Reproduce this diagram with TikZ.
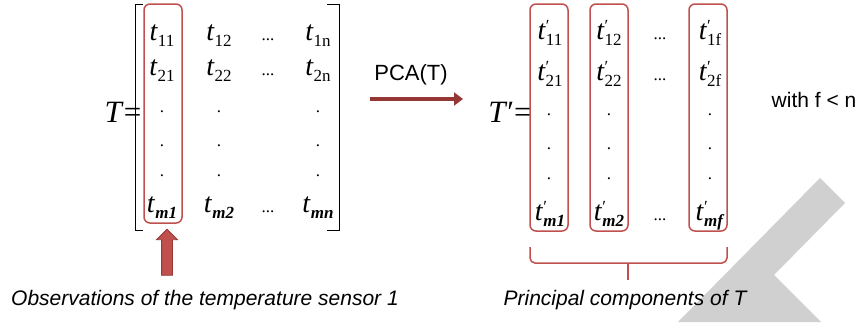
\documentclass[tikz,border=0pt]{standalone}
\usepackage{fontspec}
\setmainfont{Liberation Serif}
\setsansfont{Liberation Sans}
\usepackage{tikz}
\usetikzlibrary{positioning, arrows.meta, shapes.arrows}

\definecolor{boxred}{HTML}{C0504D}
\definecolor{darkred}{HTML}{953735}
\definecolor{wmgray}{HTML}{D0D0D0}

\newcommand{\subsz}{\fontsize{17}{17}\selectfont}
\newcommand{\tent}[1]{\textit{t}\raisebox{-6pt}{\subsz #1}}
\newcommand{\tprm}[1]{\textit{t}\rlap{\raisebox{8pt}{\subsz\char"2032}}\raisebox{-6pt}{\subsz #1}}
\newcommand{\bsub}[1]{\textbf{\textit{#1}}}

\begin{document}
\begin{tikzpicture}[
    x=1pt, y=-1pt,
    colbox/.style={draw=boxred, line width=1.5pt, rounded corners=6pt,
                   minimum width=38pt, inner sep=0pt},
    entry/.style={anchor=base, inner sep=0pt, font=\fontsize{28}{28}\selectfont},
    dots/.style={anchor=base, inner sep=0pt, font=\subsz},
    eqlbl/.style={anchor=base, inner sep=0pt, font=\fontsize{31}{31}\selectfont},
    lbl/.style={font=\fontsize{21}{24}\selectfont\sffamily\itshape},
    plain/.style={font=\fontsize{21}{24}\selectfont\sffamily},
    pcaarrow/.style={-{Triangle[width=13pt, length=9pt]}, line width=4pt, draw=darkred},
    uparrow/.style={single arrow, rotate=90, fill=boxred, draw=darkred, thick,
                    minimum height=46pt, inner xsep=0pt, inner ysep=5pt,
                    single arrow head extend=5pt},
    bracket/.style={line width=0.8pt},
    colbrace/.style={draw=boxred, line width=1.5pt, rounded corners=5pt},
]
\useasboundingbox (0,0) rectangle (865,322);

% watermark in the corner
\fill[wmgray] (820,178) -- (845,203) -- (774,275) -- (821,322) -- (678,322) -- cycle;

% matrix T
\node[eqlbl] (teq) at (123,122) {\textit{T}=};
\draw[bracket] (143,4) -- (135,4) -- (135,230) -- (143,230);
\draw[bracket] (327,4) -- (339,4) -- (339,230) -- (327,230);
\node[colbox, minimum height=219pt] (lcol) at (163,113.5) {};

\node[entry] (l11) at (162,40) {\tent{11}};
\node[entry] (l12) at (219,40) {\tent{12}};
\node[dots]  (l13) at (268,40) {...};
\node[entry] (l1n) at (318,40) {\tent{1n}};
\node[entry] (l21) at (162,75) {\tent{21}};
\node[entry] (l22) at (219,75) {\tent{22}};
\node[dots]  (l23) at (268,75) {...};
\node[entry] (l2n) at (318,75) {\tent{2n}};
\node[dots] (la1) at (162,112) {.};
\node[dots] (la2) at (219,112) {.};
\node[dots] (la4) at (318,112) {.};
\node[dots] (lb1) at (162,146) {.};
\node[dots] (lb2) at (219,146) {.};
\node[dots] (lb4) at (318,146) {.};
\node[dots] (lc1) at (162,176) {.};
\node[dots] (lc2) at (219,176) {.};
\node[dots] (lc4) at (318,176) {.};
\node[entry] (lm1) at (162,212) {\tent{\bsub{m1}}};
\node[entry] (lm2) at (219,212) {\tent{\bsub{m2}}};
\node[dots]  (lm3) at (268,212) {...};
\node[entry] (lmn) at (318,212) {\tent{\bsub{mn}}};

\node[uparrow] (obsarrow) at (167,255) {};
\node[lbl] (obs) at (205,300) {Observations of the temperature sensor 1};

% PCA step
\node[plain, font=\fontsize{22}{24}\selectfont\sffamily] (pcalbl) at (411,75) {PCA(T)};
\coordinate (pcaS) at (370,99);
\coordinate (pcaE) at (463,99);
\draw[pcaarrow] (pcaS) -- (pcaE);

% matrix T'
\node[eqlbl] (tpeq) at (510,122) {\textit{T}\char"2032=};
\node[colbox, minimum height=227pt] (rcolA) at (549,117.5) {};
\node[colbox, minimum height=227pt] (rcolB) at (609,117.5) {};
\node[colbox, minimum height=227pt] (rcolF) at (708,117.5) {};

\node[entry] (r11) at (550,39) {\tprm{11}};
\node[entry] (r12) at (609,39) {\tprm{12}};
\node[dots]  (r13) at (660,39) {...};
\node[entry] (r1f) at (710,39) {\tprm{1f}};
\node[entry] (r21) at (550,80) {\tprm{21}};
\node[entry] (r22) at (609,80) {\tprm{22}};
\node[dots]  (r23) at (660,80) {...};
\node[entry] (r2f) at (710,80) {\tprm{2f}};
\node[dots] (ra1) at (549,115) {.};
\node[dots] (ra2) at (609,115) {.};
\node[dots] (ra4) at (710,115) {.};
\node[dots] (rb1) at (549,149) {.};
\node[dots] (rb2) at (609,149) {.};
\node[dots] (rb4) at (710,149) {.};
\node[dots] (rc1) at (549,179) {.};
\node[dots] (rc2) at (609,179) {.};
\node[dots] (rc4) at (710,179) {.};
\node[entry] (rm1) at (550,220) {\tprm{\bsub{m1}}};
\node[entry] (rm2) at (609,220) {\tprm{\bsub{m2}}};
\node[dots]  (rm3) at (660,220) {...};
\node[entry] (rmf) at (710,220) {\tprm{\bsub{mf}}};

\coordinate (brtip) at (628,280);
\draw[colbrace] (530,247) |- (628,263);
\draw[colbrace] (727,247) |- (628,263);
\draw[colbrace] (628,263) -- (brtip);
\node[lbl] (pcs) at (625,300) {Principal components of T};

\node[plain] (withf) at (814,100) {with f < n};
\end{tikzpicture}
\end{document}
